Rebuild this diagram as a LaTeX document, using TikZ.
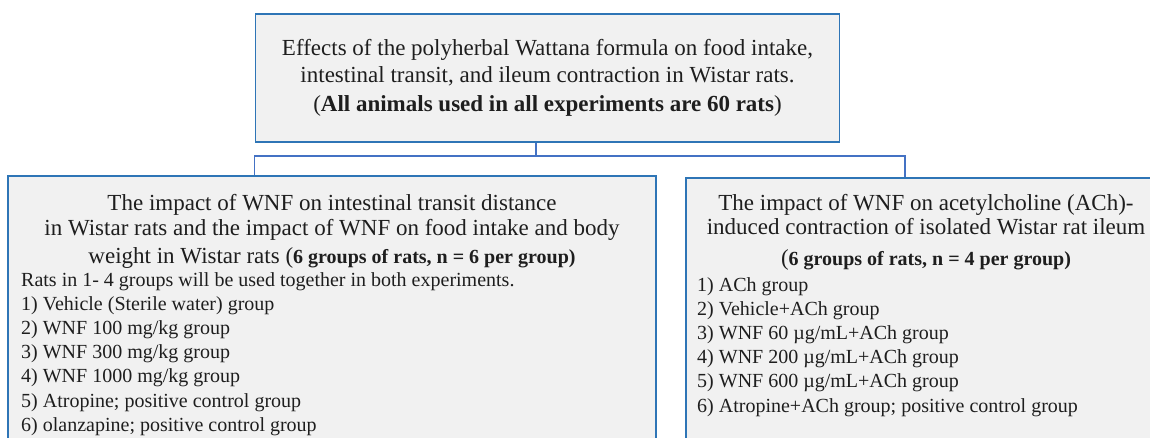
\documentclass[tikz,border=0pt]{standalone}
\usepackage{fontspec}
\setmainfont{Liberation Serif}
\usetikzlibrary{positioning}
\definecolor{boxblue}{RGB}{46,117,182}
\definecolor{linkblue}{RGB}{68,114,196}
\definecolor{boxfill}{RGB}{241,241,241}
\definecolor{ink}{RGB}{30,30,30}
\newcommand{\grpfont}{\fontsize{20}{24}\selectfont\bfseries}
\tikzset{
  panel/.style={draw=boxblue, fill=boxfill, line width=1.5pt, inner sep=0pt},
  link/.style={draw=linkblue, line width=1.2pt},
  ttl/.style={font=\fontsize{23}{27}\selectfont, text=ink, anchor=base, inner sep=0pt},
  item/.style={font=\fontsize{20}{24}\selectfont, text=ink, anchor=base west, inner sep=0pt},
  }

\begin{document}
\begin{tikzpicture}[x=1pt,y=-1pt]
  \useasboundingbox (0,0) rectangle (1150,437);
  \clip (0,0) rectangle (1150,437);

  % boxes
  \node[panel, minimum width=584pt, minimum height=128pt] (goal) at (547.5,78) {};
  \node[panel, minimum width=648pt, minimum height=300pt] (transit) at (332,326) {};
  \node[panel, minimum width=500pt, minimum height=300pt] (ileum) at (936,328) {};

  % connectors
  \coordinate (split) at (536,156);
  \coordinate (drop) at (905,156);
  \draw[link] (split |- goal.south) -- (split);
  \draw[link] (goal.south west |- transit.north) -- (goal.south west |- split) -- (drop) -- (drop |- ileum.north);

  % headline
  \node[ttl] (head1) at (547.5,55) {Effects of the polyherbal Wattana formula on food intake,};
  \node[ttl] (head2) at (547.5,82) {intestinal transit, and ileum contraction in Wistar rats.};
  \node[ttl] (head3) at (547.5,111) {(\textbf{All animals used in all experiments are 60 rats})};

  % transit and food intake
  \node[ttl] (tr1) at (332,210) {The impact of WNF on intestinal transit distance};
  \node[ttl] (tr2) at (332,235) {in Wistar rats and the impact of WNF on food intake and body};
  \node[ttl] (tr3) at (332,263) {weight in Wistar rats ({\grpfont 6 groups of rats, n = 6 per group)}};
  \node[item] (rats) at (21,286) {Rats in 1- 4 groups will be used together in both experiments.};
  \foreach \txt [count=\i] in {1) Vehicle (Sterile water) group, 2) WNF 100 mg/kg group,
      3) WNF 300 mg/kg group, 4) WNF 1000 mg/kg group, 5) Atropine; positive control group,
      6) olanzapine; positive control group}
    \node[item] (tg\i) at (21,{286+24.2*\i}) {\txt};

  % ileum contraction
  \node[ttl] (il1) at (926,210) {The impact of WNF on acetylcholine (ACh)-};
  \node[ttl] (il2) at (926,234) {induced contraction of isolated Wistar rat ileum};
  \node[ttl] (il3) at (926,265) {({\grpfont 6 groups of rats, n = 4 per group)}};
  \foreach \txt [count=\i] in {1) ACh group, 2) Vehicle+ACh group, 3) WNF 60 µg/mL+ACh group,
      4) WNF 200 µg/mL+ACh group, 5) WNF 600 µg/mL+ACh group,
      6) Atropine+ACh group; positive control group}
    \node[item] (ig\i) at (697,{266.8+24.2*\i}) {\txt};
\end{tikzpicture}
\end{document}
